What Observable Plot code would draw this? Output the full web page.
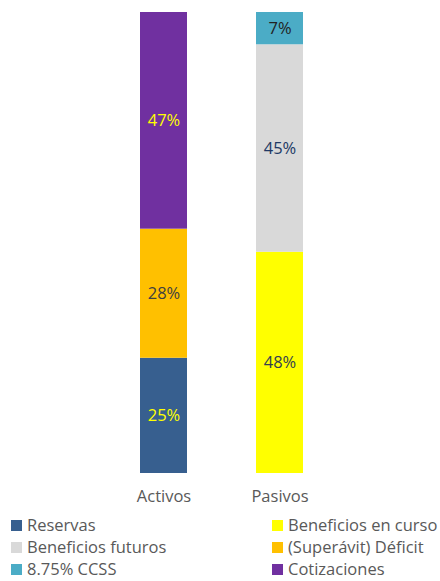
<!DOCTYPE html>
<html><head><meta charset="utf-8">
<script src="https://cdn.jsdelivr.net/npm/d3@7"></script>
<script src="https://cdn.jsdelivr.net/npm/@observablehq/plot@0.6"></script>
<style>
body{margin:0;background:#fff;font-family:"Open Sans",sans-serif;}
#wrap{position:relative;width:440px;height:581px;}
.leg{position:absolute;display:flex;align-items:center;font-size:16.5px;line-height:16px;height:16px;color:#595959;white-space:nowrap;}
.sw{width:11px;height:11px;margin-right:5px;}
</style></head>
<body><div id="wrap"></div>
<script>
const groups = ["Activos","Activos","Activos","Pasivos","Pasivos","Pasivos"];
const series = ["Reservas","(Superávit) Déficit","Cotizaciones","Beneficios en curso","Beneficios futuros","8.75% CCSS"];
const values = [25,28,47,48,45,7];
const barColors = ["#375F8F","#FFC000","#7030A0","#FFFF00","#D9D9D9","#4BACC6"];
const labelColors = ["#FFFF00","#404040","#FFFF00","#333F50","#203864","#222222"];
const categories = ["Activos","Pasivos"];
const legendOrder = ["Reservas","Beneficios en curso","Beneficios futuros","(Superávit) Déficit","8.75% CCSS","Cotizaciones"];

const data = values.map((v,i)=>({group:groups[i],series:series[i],value:v,color:barColors[i],lc:labelColors[i]}));

const chart = Plot.plot({
  width:440, height:510,
  marginLeft:140, marginRight:137, marginTop:12, marginBottom:37,
  style:{fontFamily:"'Open Sans', sans-serif", fontSize:"16.5px", color:"#595959", background:"#fff"},
  x:{domain:categories, paddingInner:0.595, paddingOuter:0, label:null},
  y:{domain:[0,100], axis:null},
  color:{type:"identity"},
  marks:[
    Plot.barY(data, Plot.stackY({x:"group", y:"value", fill:"color", order:null})),
    Plot.text(data, Plot.stackY({x:"group", y:"value", text:d=>d.value+"%", fill:"lc", order:null, fontSize:16.5})),
    Plot.axisX({tickSize:0, tickPadding:17, fontSize:16.5, fill:"#595959"})
  ]
});
const wrap=document.getElementById("wrap");
wrap.appendChild(chart);

const pos=[[11,525],[272,525],[11,547],[272,547],[11,569],[272,569]];
legendOrder.forEach((s,i)=>{
  const d=document.createElement("div");
  d.className="leg";
  d.style.left=pos[i][0]+"px"; d.style.top=(pos[i][1]-8)+"px";
  const sw=document.createElement("div"); sw.className="sw";
  sw.style.background=barColors[series.indexOf(s)];
  d.appendChild(sw);
  const t=document.createElement("span"); t.textContent=s; d.appendChild(t);
  wrap.appendChild(d);
});
</script></body></html>
